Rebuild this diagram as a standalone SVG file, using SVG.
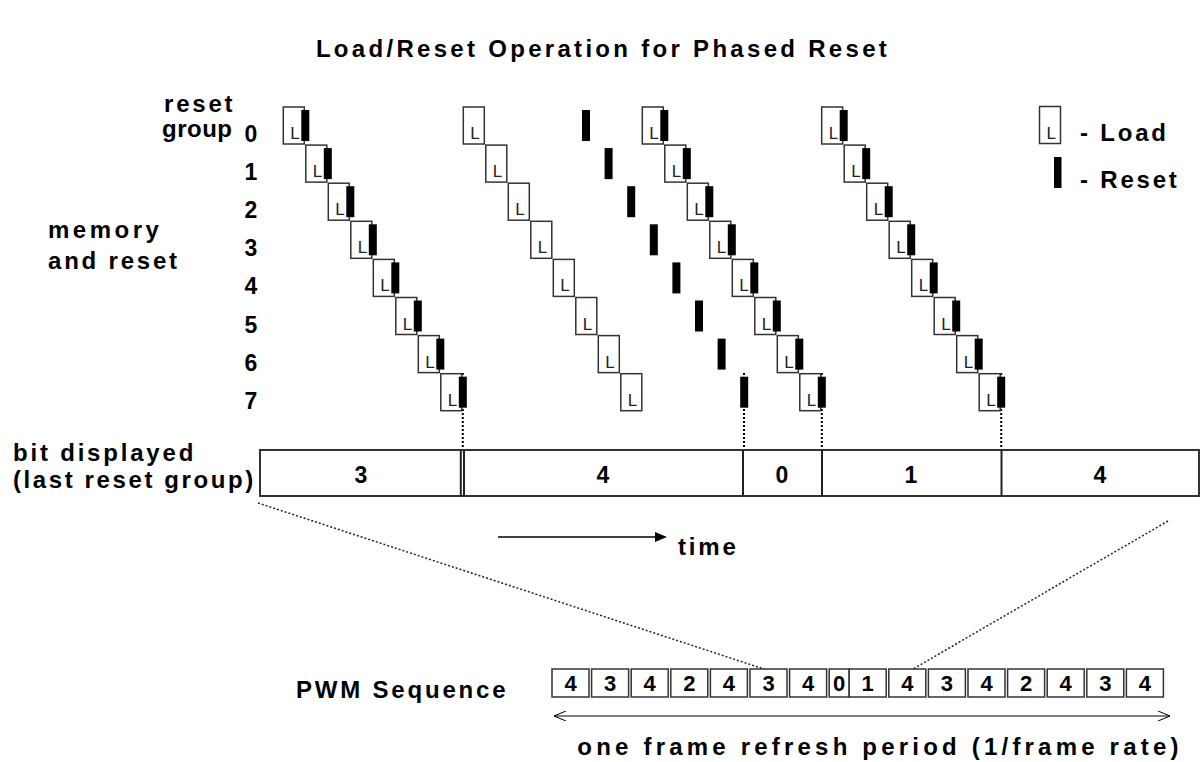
<svg xmlns="http://www.w3.org/2000/svg" width="1201" height="762" viewBox="0 0 1201 762">
<style>
.t{font-family:"Liberation Sans",Arial,sans-serif;font-weight:bold;font-size:24px;letter-spacing:2.8px;fill:#000}
.n{font-family:"Liberation Sans",Arial,sans-serif;font-weight:bold;font-size:23px;fill:#000}
.p{font-family:"Liberation Sans",Arial,sans-serif;font-weight:bold;font-size:22px;fill:#000}
.L{font-family:"Liberation Sans",Arial,sans-serif;font-size:17px;fill:#222}
.box{fill:#fff;stroke:#333;stroke-width:1.5}
.rs{fill:#000}
.dot{stroke:#000;stroke-width:2;stroke-dasharray:2 2;fill:none}
.zoomln{stroke:#222;stroke-width:1.5;stroke-dasharray:2 2;fill:none}
.bar{fill:#fff;stroke:#333;stroke-width:2}
.div{stroke:#222;stroke-width:2}
.pwm{fill:#fff;stroke:#333;stroke-width:1.5}
</style>
<defs>
<symbol id="ld" overflow="visible"><rect class="box" x="0" y="0" width="21" height="37"/><text class="L" x="7" y="32">L</text></symbol>
<symbol id="lr" overflow="visible"><rect class="box" x="0" y="0" width="21" height="37"/><text class="L" x="7" y="32">L</text><rect class="rs" x="18" y="3" width="8" height="31"/></symbol>
<marker id="oa" viewBox="0 0 12 10" refX="12" refY="5" markerWidth="12" markerHeight="10" markerUnits="userSpaceOnUse" orient="auto-start-reverse"><path d="M0,0 L12,5 L0,10" fill="none" stroke="#000" stroke-width="1"/></marker>
</defs>

<text class="t" x="603" y="57" text-anchor="middle" style="letter-spacing:3.3px">Load/Reset Operation for Phased Reset</text>

<g id="labels">
<text class="t" x="164" y="112">reset</text>
<text class="t" x="162" y="137" style="letter-spacing:0.5px">group</text>
<text class="t" x="48" y="238" style="letter-spacing:3.5px">memory</text>
<text class="t" x="48" y="269">and reset</text>
<text class="n" x="251" y="142" text-anchor="middle">0</text>
<text class="n" x="251" y="180" text-anchor="middle">1</text>
<text class="n" x="251" y="218" text-anchor="middle">2</text>
<text class="n" x="251" y="256" text-anchor="middle">3</text>
<text class="n" x="251" y="294" text-anchor="middle">4</text>
<text class="n" x="251" y="333" text-anchor="middle">5</text>
<text class="n" x="251" y="371" text-anchor="middle">6</text>
<text class="n" x="251" y="409" text-anchor="middle">7</text>
</g>

<g id="connectors">
<line class="dot" x1="462.8" y1="373" x2="462.8" y2="450"/>
<line class="dot" x1="744" y1="373" x2="744" y2="450"/>
<line class="dot" x1="821.8" y1="373" x2="821.8" y2="450"/>
<line class="dot" x1="1001.2" y1="373" x2="1001.2" y2="450"/>
<line class="zoomln" x1="258" y1="503" x2="764" y2="669"/>
<line class="zoomln" x1="1168" y1="521" x2="913" y2="669"/>
<line x1="498" y1="537" x2="656" y2="537" stroke="#000" stroke-width="1.5"/>
<polygon points="655,532 667,537 655,542" fill="#000"/>
<line x1="554" y1="716" x2="1170" y2="716" stroke="#000" stroke-width="1" marker-start="url(#oa)" marker-end="url(#oa)"/>
</g>

<g id="diag1">
<use href="#lr" x="283.3" y="107"/>
<use href="#lr" x="305.8" y="145.1"/>
<use href="#lr" x="328.3" y="183.2"/>
<use href="#lr" x="350.8" y="221.3"/>
<use href="#lr" x="373.3" y="259.4"/>
<use href="#lr" x="395.8" y="297.5"/>
<use href="#lr" x="418.3" y="335.6"/>
<use href="#lr" x="440.8" y="373.7"/>
</g>
<g id="diag2">
<use href="#ld" x="463.3" y="107"/>
<use href="#ld" x="485.8" y="145.1"/>
<use href="#ld" x="508.3" y="183.2"/>
<use href="#ld" x="530.8" y="221.3"/>
<use href="#ld" x="553.3" y="259.4"/>
<use href="#ld" x="575.8" y="297.5"/>
<use href="#ld" x="598.3" y="335.6"/>
<use href="#ld" x="620.8" y="373.7"/>
</g>
<g id="resets">
<rect class="rs" x="582" y="110" width="8" height="31"/>
<rect class="rs" x="604.6" y="148.1" width="8" height="31"/>
<rect class="rs" x="627.2" y="186.2" width="8" height="31"/>
<rect class="rs" x="649.8" y="224.3" width="8" height="31"/>
<rect class="rs" x="672.4" y="262.4" width="8" height="31"/>
<rect class="rs" x="695" y="300.5" width="8" height="31"/>
<rect class="rs" x="717.6" y="338.6" width="8" height="31"/>
<rect class="rs" x="740.2" y="376.7" width="8" height="31"/>
</g>
<g id="diag3">
<use href="#lr" x="642.3" y="107"/>
<use href="#lr" x="664.8" y="145.1"/>
<use href="#lr" x="687.3" y="183.2"/>
<use href="#lr" x="709.8" y="221.3"/>
<use href="#lr" x="732.3" y="259.4"/>
<use href="#lr" x="754.8" y="297.5"/>
<use href="#lr" x="777.3" y="335.6"/>
<use href="#lr" x="799.8" y="373.7"/>
</g>
<g id="diag4">
<use href="#lr" x="821.7" y="107"/>
<use href="#lr" x="844.2" y="145.1"/>
<use href="#lr" x="866.7" y="183.2"/>
<use href="#lr" x="889.2" y="221.3"/>
<use href="#lr" x="911.7" y="259.4"/>
<use href="#lr" x="934.2" y="297.5"/>
<use href="#lr" x="956.7" y="335.6"/>
<use href="#lr" x="979.2" y="373.7"/>
</g>

<g id="legend">
<use href="#ld" x="1039.5" y="106.5"/>
<text class="t" x="1080" y="141">- Load</text>
<rect class="rs" x="1054" y="157" width="7.5" height="31"/>
<text class="t" x="1080" y="188">- Reset</text>
</g>

<g id="bitbar">
<text class="t" x="13" y="461">bit displayed</text>
<text class="t" x="13" y="488" style="letter-spacing:2.6px">(last reset group)</text>
<rect class="bar" x="260" y="450" width="939" height="46"/>
<line class="div" x1="460.8" y1="450" x2="460.8" y2="496" stroke-width="1.5"/>
<line class="div" x1="464" y1="450" x2="464" y2="496" stroke-width="1.5"/>
<line class="div" x1="743" y1="450" x2="743" y2="496"/>
<line class="div" x1="822" y1="450" x2="822" y2="496"/>
<line class="div" x1="1001.5" y1="450" x2="1001.5" y2="496"/>
<text class="n" x="361" y="483" text-anchor="middle">3</text>
<text class="n" x="603" y="483" text-anchor="middle">4</text>
<text class="n" x="782" y="483" text-anchor="middle">0</text>
<text class="n" x="911" y="483" text-anchor="middle">1</text>
<text class="n" x="1100" y="483" text-anchor="middle">4</text>
</g>

<text class="t" x="678" y="555">time</text>

<g id="pwm">
<text class="t" x="296" y="698">PWM Sequence</text>
<rect class="pwm" x="552" y="669" width="37" height="28"/>
<rect class="pwm" x="591.6" y="669" width="37" height="28"/>
<rect class="pwm" x="631.2" y="669" width="37" height="28"/>
<rect class="pwm" x="670.8" y="669" width="37" height="28"/>
<rect class="pwm" x="710.4" y="669" width="37" height="28"/>
<rect class="pwm" x="750" y="669" width="37" height="28"/>
<rect class="pwm" x="789.6" y="669" width="37" height="28"/>
<rect class="pwm" x="829.2" y="669" width="20" height="28"/>
<rect class="pwm" x="849.2" y="669" width="37" height="28"/>
<rect class="pwm" x="888.8" y="669" width="37" height="28"/>
<rect class="pwm" x="928.4" y="669" width="37" height="28"/>
<rect class="pwm" x="968" y="669" width="37" height="28"/>
<rect class="pwm" x="1007.6" y="669" width="37" height="28"/>
<rect class="pwm" x="1047.2" y="669" width="37" height="28"/>
<rect class="pwm" x="1086.8" y="669" width="37" height="28"/>
<rect class="pwm" x="1126.4" y="669" width="37" height="28"/>
<text class="p" x="570.5" y="691" text-anchor="middle">4</text>
<text class="p" x="610.1" y="691" text-anchor="middle">3</text>
<text class="p" x="649.7" y="691" text-anchor="middle">4</text>
<text class="p" x="689.3" y="691" text-anchor="middle">2</text>
<text class="p" x="728.9" y="691" text-anchor="middle">4</text>
<text class="p" x="768.5" y="691" text-anchor="middle">3</text>
<text class="p" x="808.1" y="691" text-anchor="middle">4</text>
<text class="p" x="839.2" y="691" text-anchor="middle">0</text>
<text class="p" x="867.7" y="691" text-anchor="middle">1</text>
<text class="p" x="907.3" y="691" text-anchor="middle">4</text>
<text class="p" x="946.9" y="691" text-anchor="middle">3</text>
<text class="p" x="986.5" y="691" text-anchor="middle">4</text>
<text class="p" x="1026.1" y="691" text-anchor="middle">2</text>
<text class="p" x="1065.7" y="691" text-anchor="middle">4</text>
<text class="p" x="1105.3" y="691" text-anchor="middle">3</text>
<text class="p" x="1144.9" y="691" text-anchor="middle">4</text>
<text class="t" x="880" y="755" text-anchor="middle" style="letter-spacing:4.2px">one frame refresh period (1/frame rate)</text>
</g>
</svg>
